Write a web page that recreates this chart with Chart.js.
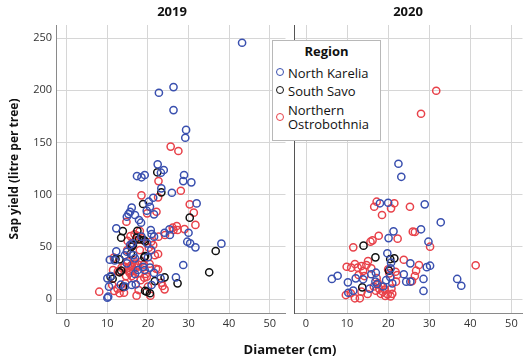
<!DOCTYPE html>
<html>
<head>
<meta charset="utf-8">
<script src="https://cdn.jsdelivr.net/npm/chart.js@4"></script>
<style>
  body { margin: 0; background: #fff; font-family: "Open Sans", sans-serif; }
  #wrap { position: relative; width: 528px; height: 359px; overflow: hidden; }
  canvas { position: absolute; top: 0; }
  #c2019 { left: 0; }
  #c2020 { left: 289px; }
  .ttl { position: absolute; font-weight: bold; font-size: 13px; color: #111; transform: translate(-50%, -50%); white-space: nowrap; }
  #legend { position: absolute; left: 272px; top: 40px; width: 107px; height: 99px; background: #fff; border: 1px solid #b8b8b8; font-size: 13px; color: #111; }
  #legend .head { position: absolute; top: 1px; width: 100%; text-align: center; font-weight: bold; }
  #legend .item { position: absolute; left: 15px; line-height: 14px; }
  #legend .dot { position: absolute; left: 3px; width: 6px; height: 6px; border-radius: 50%; border: 1.5px solid; }
</style>
</head>
<body>
<div id="wrap">
  <canvas id="c2019" width="291" height="359"></canvas>
  <canvas id="c2020" width="239" height="359"></canvas>
  <div class="ttl" style="left:172px; top:11px;">2019</div>
  <div class="ttl" style="left:408px; top:11px;">2020</div>
  <div class="ttl" style="left:290px; top:349px;">Diameter (cm)</div>
  <div id="legend">
    <div class="head">Region</div>
    <span class="dot" style="top:27px; border-color:#3a50af"></span>
    <div class="item" style="top:25px;">North Karelia</div>
    <span class="dot" style="top:45px; border-color:#111"></span>
    <div class="item" style="top:43px;">South Savo</div>
    <span class="dot" style="top:72px; border-color:#e8424a"></span>
    <div class="item" style="top:62px;">Northern<br>Ostrobothnia</div>
  </div>
</div>
<script>
const regions = ['North Karelia', 'South Savo', 'Northern Ostrobothnia'];
const colors = ['#3a50af', '#111111', '#e8424a'];
const xTicks = [0, 10, 20, 30, 40, 50];
const yTicks = [0, 50, 100, 150, 200, 250];

// [diameter cm, sap yield litre per tree]
const nk2019 = [
  [43.2,245.5],[22.7,197.6],[26.3,203],[26.3,181],[29.4,162],[29.2,154.5],
  [22.4,129],[23.9,123.6],[23.2,121],
  [17.3,117.8],[18.4,116.6],[19.2,118.8],[28.9,118.8],[28.7,113],[30.7,111.8],
  [23.3,106],[25.9,101.8],[20.2,93.2],[21.3,97],
  [32.0,91.6],[20.5,88.4],[19.7,84.6],[21.5,81.1],
  [16.0,87.5],[15.6,83.6],[15.2,81.4],[14.8,78.8],[16.8,80.5],[17.8,75.7],[18.3,73.1],
  [12.2,67.7],[20.7,66.1],[20.9,62.3],[21.5,59.7],[24.1,63.5],[25.3,66.8],[25.4,61.3],[30.0,63.5],
  [29.7,54.9],[31.7,49.5],[30.4,53.3],[38.1,53],
  [19.8,53.3],[18.4,59.7],[15.6,51.7],[16.2,53.4],[14.8,45.3],[14.3,41.9],[12.2,45.7],[10.6,37.6],[11.8,37],
  [20.0,40],[20.8,46.9],[16.8,39],[16.4,42.1],[14.8,34.2],[17.5,27.8],[16.8,24],[18.8,30.9],[19.2,27.8],
  [28.7,32.6],[26.9,20.8],[23.1,19.8],[20.9,13.4],[17.0,14.1],[16.0,13.4],[13.3,13.7],[14.3,11.8],
  [10.2,2.2],[10.0,1.2],[10.4,11.8],[10.0,19.8],[10.9,22],[20.5,30],[21.5,25]
];
const ss2019 = [
  [22.3,121.4],[23.3,102.2],[18.8,91],[30.3,77.9],[13.8,65.1],[13.4,58.7],[17.4,65.4],[17.8,57.2],
  [17.2,58.7],[19.0,56.5],[19.3,55.3],[36.7,46],[35.1,25.6],[27.3,15],[24.1,20.8],[21.7,17.2],
  [20.5,5.5],[19.7,7],[19.3,7.7],[13.9,11.8],[10.8,21.4],[11.3,19.4],[13,38],[12,38.3],
  [13,25.6],[13.4,27.1],[15.8,43.4],[16,50.1],[16.3,51.7],[19.1,40],[19.3,41.2]
];
const no2019 = [
  [25.6,146],[27.5,141.8],[22.6,113],[22.5,97.4],[28.1,103.7],[18.4,99.3],[30.3,90.7],[31.3,82.7],[31.7,71],
  [19.8,82.1],[22.1,83.6],[14.7,74],[18.0,65.1],[17.4,60.6],[18.3,58.7],[17.0,56.5],[15.0,55.6],[16.0,53.3],
  [22.6,59.7],[24.2,61.3],[26.1,68.3],[27.1,69.9],[27.3,66.1],[26.3,66.1],[29.0,67],[15.7,60.3],[16.7,62],
  [22.5,43.1],[21.7,41.9],[22.5,28.4],[22.0,29],[20.4,33.8],[19.1,20.4],[19.7,21.4],[20.6,3.2],[17.2,3.2],
  [17.7,8.6],[16.5,20.1],[14.4,15],[13.8,10.8],[13,5.5],[14.1,6],[11.7,7.7],[8.0,7],[11.2,13.4],[11.6,39.6],
  [11.4,27.8],[12.6,26.5],[13.1,25.9],[14.9,46.9],[15.8,50.1],[20.2,49.1],[18.0,46.9],[18.6,56.5],[20.8,54.9],
  [21.3,51.7],[23.3,15.6],[24.1,9.3],[23.6,12.5],
  [15.2,30],[15.8,32],[16.3,28],[16.8,34],[15.5,25],[16.0,22],[17.2,30],[17.6,33],[15.0,36],[14.2,31],
  [16.5,37],[17.9,25],[15.3,27],[16.1,30.5],[14.6,22],[18.5,36],[19.0,33],[19.5,24],[13.5,30],[18.2,18],
  [20.0,12],[12.5,10]
];

const nk2020 = [
  [22.5,129.6],[23.2,117.1],[18,91.7],[20,92.2],[28.9,90.7],[32.8,73.5],[21.3,64.8],[20.1,58.4],[28,66.8],
  [29.8,54.9],[19.8,43.8],[20.7,34.8],[20.6,29.4],[25.4,34.2],[29.4,30.5],[30.2,31.9],[6.3,19.2],[7.7,22.3],
  [10.2,16],[12.1,19.8],[13.9,18.9],[15.9,23.7],[17,25.2],[16.9,16.6],[17.3,14.4],[23.8,23.7],[24.4,16.6],
  [25.4,16.6],[28.6,19.2],[28.6,7.7],[36.8,19.2],[37.8,12.7],[10.3,6],[11.5,8],[19.5,18],[21,15],[20.5,21],
  [15.5,10],[18.8,12]
];
const ss2020 = [
  [14,51.1],[16.9,39.9],[20.5,38.3],[21.5,39],[20.2,27.1],[13.7,11.2]
];
const no2020 = [
  [31.7,199.5],[28,177.5],[17.2,93.2],[16.6,88.4],[21.5,91.7],[20.7,86.9],[25.3,88.4],[18.5,80.5],
  [26,64.5],[26.5,64.2],[22.3,57.8],[17.7,60.6],[16.2,56.2],[15.7,54.9],[30.2,50.1],[11.5,49.5],
  [23.8,37.6],[27.5,32.6],[41.3,32.3],[11.9,33.5],[11,30],[12.6,30],[13.5,31.6],[14.7,32.6],[15.1,36.4],
  [15.9,29.4],[13.9,26.8],[9.9,30.9],[20,28.5],[20.3,24.6],[21.8,26.1],[22.2,23],[21.9,16.6],[26.8,27.1],
  [26.5,22],[25.8,17.2],[9.7,3.8],[10.9,5.5],[11.9,0.7],[13.1,0.7],[13.5,7],[15,4.8],
  [17.2,20],[17.5,15],[17.8,10],[18.2,5],[18.7,7],[19.3,3],[19.9,4.5],[20.6,2.5],[18.4,12],[19.2,9],
  [17.0,8],[16.5,12],[21.0,5],[20.8,10],[14.2,22],[12.8,23]
];

const tickFont = { family: 'Open Sans', size: 11 };
const gridColor = '#d6d6d6';

function toPoints(arr) {
  return arr.map(p => ({ x: p[0], y: p[1] }));
}

function datasets(seriesList) {
  return seriesList.map((s, i) => ({
    label: regions[i],
    data: toPoints(s),
    pointRadius: 3.6,
    pointBorderWidth: 1.5,
    pointBorderColor: colors[i],
    pointBackgroundColor: 'rgba(0,0,0,0)',
    showLine: false
  }));
}

function makeOptions(first, xMin, xMax) {
  return {
    responsive: false,
    animation: false,
    layout: { padding: { left: first ? 3 : 0, right: first ? 1 : 5, top: 25, bottom: 0 } },
    plugins: { legend: { display: false }, tooltip: { enabled: false } },
    scales: {
      x: {
        type: 'linear', min: xMin, max: xMax,
        afterBuildTicks: s => { s.ticks = xTicks.map(v => ({ value: v })); },
        afterFit: s => { s.height = 46; },
        grid: { color: gridColor, drawTicks: false },
        border: { color: '#8a8a8a', width: 1 },
        ticks: { font: tickFont, color: '#333', padding: 4, maxRotation: 0 }
      },
      y: {
        type: 'linear', min: -13.4, max: 262.5,
        afterBuildTicks: s => { s.ticks = yTicks.map(v => ({ value: v })); },
        afterFit: s => { s.width = first ? 53 : 3; },
        grid: { color: gridColor, drawTicks: false },
        border: { color: first ? '#8a8a8a' : '#555', width: 1 },
        ticks: { display: first, font: tickFont, color: '#333', padding: 4 },
        title: {
          display: first, text: 'Sap yield (litre per tree)', color: '#111',
          font: { family: 'Open Sans', size: 12, weight: 'bold' }, padding: { top: 4, bottom: 4 }
        }
      }
    }
  };
}

new Chart(document.getElementById('c2019').getContext('2d'), {
  type: 'scatter',
  data: { datasets: datasets([nk2019, ss2019, no2019]) },
  options: makeOptions(true, -2.66, 53.9)
});

new Chart(document.getElementById('c2020').getContext('2d'), {
  type: 'scatter',
  data: { datasets: datasets([nk2020, ss2020, no2020]) },
  options: makeOptions(false, -2.8, 52.7)
});
</script>
</body>
</html>
